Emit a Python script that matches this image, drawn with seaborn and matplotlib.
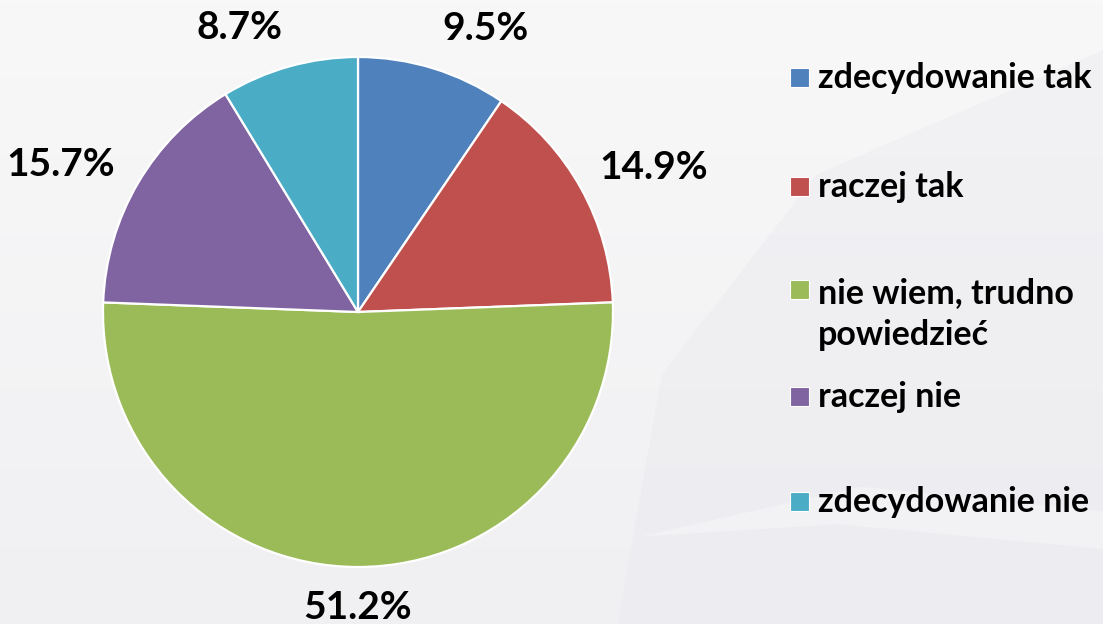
import numpy as np
import matplotlib.pyplot as plt
import seaborn as sns
from matplotlib.patches import Rectangle, Polygon

# data
categories = ['zdecydowanie tak', 'raczej tak', 'nie wiem, trudno\npowiedzieć',
              'raczej nie', 'zdecydowanie nie']
shares = [9.5, 14.9, 51.2, 15.7, 8.7]
colors = ['#4F81BD', '#C0504D', '#9BBB59', '#8064A2', '#4BACC6']

sns.set_theme(style='white')
plt.rcParams['font.family'] = ['Lato', 'DejaVu Sans']

W, H = 1103, 624
fig = plt.figure(figsize=(W / 100, H / 100), dpi=100)
fig.patch.set_facecolor('#f3f3f5')

# soft background: light gradient plus faint swooshes
bg = fig.add_axes([0, 0, 1, 1], zorder=-10)
grad = np.linspace(0, 1, 200)[:, None] * np.ones((1, 10))
bg.imshow(grad, extent=[0, 1, 0, 1], aspect='auto',
          cmap=sns.blend_palette(['#f0f0f3', '#f8f8f8'], as_cmap=True), origin='lower')
bg.add_patch(Polygon([(0.56, 0.0), (0.60, 0.40), (0.74, 0.72), (1.0, 0.92), (1.0, 0.0)],
                     closed=True, facecolor='#e8e8ee', alpha=0.35, edgecolor='none'))
bg.add_patch(Polygon([(0.58, 0.14), (0.78, 0.22), (1.0, 0.18), (1.0, 0.12), (0.76, 0.16)],
                     closed=True, facecolor='#f8f8f9', alpha=0.5, edgecolor='none'))
bg.set_xlim(0, 1)
bg.set_ylim(0, 1)
bg.axis('off')

# pie axes: centre (358, 312) px, radius 255 px
cx, cy, r = 358, 312, 255
ax = fig.add_axes([(cx - r) / W, (H - cy - r) / H, 2 * r / W, 2 * r / H])
wedges, _ = ax.pie(shares, colors=colors, startangle=90, counterclock=False,
                   wedgeprops=dict(edgecolor='white', linewidth=1.6))
ax.set_xlim(-1, 1)
ax.set_ylim(-1, 1)
ax.set_aspect('equal')
ax.axis('off')

# percentage labels outside the slices (best-fit style)
label_dist = [1.22, 1.29, 1.16, 1.30, 1.21]
label_shift = [-7, -3, 0, 4, 7]
start = 90.0
for share, d, s in zip(shares, label_dist, label_shift):
    mid = start - share * 3.6 / 2
    start -= share * 3.6
    ang = np.deg2rad(mid + s)
    ax.text(d * np.cos(ang), d * np.sin(ang), f'{share:.1f}%', ha='center', va='center',
            fontsize=28, fontweight='bold', color='black', clip_on=False)

# legend drawn by hand so the two-line entry keeps its marker on the first line
legend_y = [78, 187, 290, 397, 502]
for lab, col, y in zip(categories, colors, legend_y):
    fig.add_artist(Rectangle((790 / W, (H - y - 9) / H), 19 / W, 19 / H,
                             transform=fig.transFigure, facecolor=col, edgecolor='white', linewidth=0.8))
    ty = y + 24 if '\n' in lab else y
    fig.text(818 / W, (H - ty) / H, lab, ha='left', va='center',
             fontsize=24.5, fontweight='bold', color='black', linespacing=1.4)

fig.savefig('out.png', dpi=100, facecolor=fig.get_facecolor())
